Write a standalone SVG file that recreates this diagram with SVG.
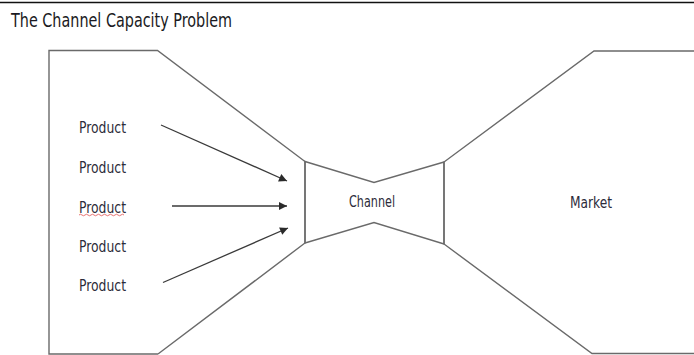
<svg xmlns="http://www.w3.org/2000/svg" width="694" height="355" viewBox="0 0 694 355">
  <style>
    .outline { fill: none; stroke: #6a6a6a; stroke-width: 1.4; stroke-linejoin: miter; }
    .label { font-family: "DejaVu Sans Condensed", "DejaVu Sans", sans-serif; font-size: 15px; fill: #2c2c3a; }
    .title { font-family: "DejaVu Sans Condensed", "DejaVu Sans", sans-serif; font-size: 19px; fill: #1a1a22; }
    .flow { stroke: #3a3a3a; stroke-width: 1.3; fill: none; marker-end: url(#head); }
  </style>
  <defs>
    <marker id="head" viewBox="0 0 10 10" refX="10" refY="5" markerWidth="10" markerHeight="8" markerUnits="userSpaceOnUse" orient="auto">
      <path d="M0,0 L10,5 L0,10 Z" fill="#2a2a2a"/>
    </marker>
  </defs>

  <rect x="0" y="0" width="694" height="355" fill="#ffffff"/>
  <line x1="0" y1="2.5" x2="694" y2="2.5" stroke="#111" stroke-width="1.6"/>

  <text class="title" x="11" y="27" textLength="221" lengthAdjust="spacingAndGlyphs">The Channel Capacity Problem</text>

  <g id="producers">
    <path class="outline" d="M158,354 L49,354 L49,50.5 L157.5,50.5 L305,161.5 L305,243 L158,354"/>
    <text class="label" x="79" y="132.5" textLength="47" lengthAdjust="spacingAndGlyphs">Product</text>
    <text class="label" x="79" y="172.5" textLength="47" lengthAdjust="spacingAndGlyphs">Product</text>
    <text class="label" x="79" y="212.5" textLength="47" lengthAdjust="spacingAndGlyphs">Product</text>
    <path d="M79,215 q1.5,-1.5 3,0 t3,0 t3,0 t3,0 t3,0 t3,0 t3,0 t3,0 t3,0 t3,0 t3,0 t3,0 t3,0 t3,0 t3,0" fill="none" stroke="#e05050" stroke-width="0.8"/>
    <text class="label" x="79" y="251.5" textLength="47" lengthAdjust="spacingAndGlyphs">Product</text>
    <text class="label" x="79" y="290.5" textLength="47" lengthAdjust="spacingAndGlyphs">Product</text>
  </g>

  <g id="channel">
    <path class="outline" d="M305,161.5 L374,182.5 L444,162 L444,244 L374,222.5 L305,243 Z"/>
    <text class="label" x="349" y="207" textLength="46" lengthAdjust="spacingAndGlyphs">Channel</text>
  </g>

  <g id="market">
    <path class="outline" d="M694,51 L594,51 L444,162 L444,244 L592,353.5 L694,353.5"/>
    <text class="label" x="570" y="208" textLength="42" lengthAdjust="spacingAndGlyphs">Market</text>
  </g>

  <g id="connectors">
    <line class="flow" x1="161" y1="125" x2="287" y2="181"/>
    <line class="flow" x1="172" y1="206" x2="287" y2="206"/>
    <line class="flow" x1="163" y1="282.5" x2="288" y2="228"/>
  </g>
</svg>
